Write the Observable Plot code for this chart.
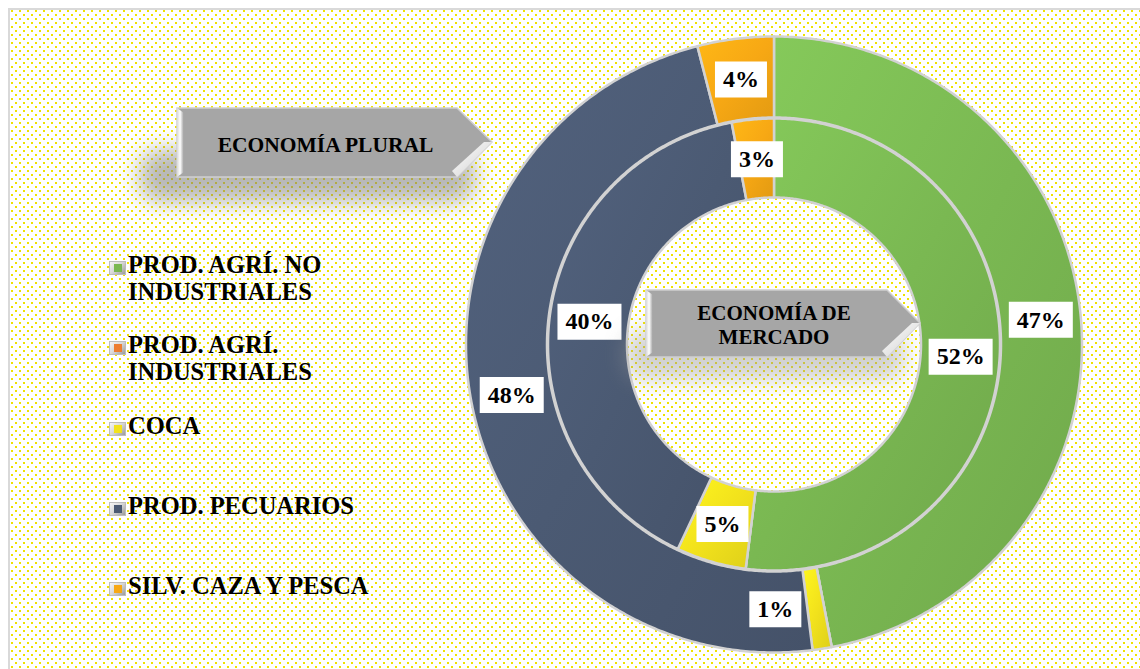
<!DOCTYPE html>
<html>
<head>
<meta charset="utf-8">
<script src="https://cdn.jsdelivr.net/npm/d3@7"></script>
<script src="https://cdn.jsdelivr.net/npm/@observablehq/plot@0.6"></script>
<style>
  body { margin: 0; background: #fff; }
  #wrap { position: relative; width: 1140px; height: 669px; overflow: hidden; background: #fff;
          font-family: "Liberation Serif", "Times New Roman", serif; }
  #frame { position: absolute; left: 8px; top: 8px; width: 1160px; height: 690px;
           border: 2px solid #d9d9d9;
           background-image: url("data:image/svg+xml;utf8,<svg xmlns='http://www.w3.org/2000/svg' width='8' height='8'><rect x='1' y='0' width='2' height='2' fill='%23EFE200'/><rect x='5' y='4' width='2' height='2' fill='%23EFE200'/></svg>"); }
  #chart { position: absolute; left: 0; top: 0; }
  #ann { position: absolute; left: 0; top: 0; }
  .item { position: absolute; left: 109px; width: 290px; }
  .icon { position: absolute; left: 0; width: 17px; height: 14px; box-sizing: border-box;
          background: linear-gradient(135deg, #f6f6f6 0%, #d6d6d6 50%, #9a9a9a 100%);
          border: 1px solid #bdbdbd; }
  .icon i { position: absolute; left: 4px; top: 2px; width: 8px; height: 8px; }
  .txt { position: absolute; left: 19px; width: 270px; font-size: 24.5px; font-weight: bold;
         line-height: 26.5px; color: #000; }
</style>
</head>
<body>
<div id="wrap">
  <div id="frame"></div>
  <div id="chart"></div>
  <div id="legend"></div>
  <svg id="ann" width="1140" height="669">
    <defs>
      <filter id="blur" x="-50%" y="-100%" width="200%" height="300%"><feGaussianBlur stdDeviation="11"/></filter>
      <linearGradient id="lbev" x1="0" x2="1" y1="0" y2="0">
        <stop offset="0" stop-color="#d8d8d8"/><stop offset="0.45" stop-color="#ffffff"/><stop offset="1" stop-color="#9c9c9c"/>
      </linearGradient>
      <linearGradient id="dbev" x1="0" x2="1" y1="0" y2="1">
        <stop offset="0" stop-color="#ffffff"/><stop offset="1" stop-color="#cfcfcf"/>
      </linearGradient>
    </defs>
    <!-- ECONOMÍA PLURAL -->
    <rect x="140" y="150" width="335" height="52" rx="20" fill="#7d7d7d" opacity="0.55" filter="url(#blur)"/>
    <polygon points="177,108 457,108 492,142 457,177 177,177" fill="#A6A6A6" stroke="#cfcfcf" stroke-width="1.5"/>
    <polygon points="177,108 184,113 184,172 177,177" fill="url(#lbev)"/>
    <polygon points="492,142 457,177 452,171 484,142" fill="url(#dbev)"/>
    <text x="325.5" y="151.7" text-anchor="middle" font-size="21.5" font-weight="bold"
          font-family="Liberation Serif, Times New Roman, serif">ECONOMÍA PLURAL</text>
    <!-- ECONOMÍA DE MERCADO -->
    <rect x="625" y="330" width="280" height="50" rx="20" fill="#9a9a9a" opacity="0.45" filter="url(#blur)"/>
    <polygon points="646,290 887,290 920,323 887,357 646,357" fill="#A6A6A6" stroke="#cfcfcf" stroke-width="1.5"/>
    <polygon points="646,290 653,295 653,352 646,357" fill="url(#lbev)"/>
    <polygon points="920,323 887,357 882,351 912,323" fill="url(#dbev)"/>
    <text x="774" y="320" text-anchor="middle" font-size="21" font-weight="bold"
          font-family="Liberation Serif, Times New Roman, serif">ECONOMÍA DE</text>
    <text x="774" y="344.3" text-anchor="middle" font-size="21" font-weight="bold"
          font-family="Liberation Serif, Times New Roman, serif">MERCADO</text>
  </svg>
</div>
<script>
// ---- data ----
const categories = ["PROD. AGRÍ. NO INDUSTRIALES", "PROD. AGRÍ. INDUSTRIALES", "COCA", "PROD. PECUARIOS", "SILV. CAZA Y PESCA"];
const outerValues = [47, 0, 1, 48, 4];   // Economía plural (outer ring)
const innerValues = [52, 0, 5, 40, 3];   // Economía de mercado (inner ring)
const colors = ["#7AB852", "#ED7D31", "#F2E21C", "#4B5A73", "#F7A814"];

// ---- layout ----
const W = 1140, H = 669, cx = 774, cy = 344.5;
const rings = [
  {name: "outer", values: outerValues, r0: 227, r1: 308},
  {name: "inner", values: innerValues, r0: 147, r1: 226}
];

const arcRows = [];
const labelRows = [];
for (const ring of rings) {
  const total = d3.sum(ring.values);
  let acc = 0;
  ring.values.forEach((v, i) => {
    const a0 = acc / total * 2 * Math.PI;
    acc += v;
    const a1 = acc / total * 2 * Math.PI;
    const n = Math.max(2, Math.ceil((a1 - a0) / (Math.PI / 360)));
    for (let k = 0; k <= n; k++) {
      const a = a0 + (a1 - a0) * k / n;
      arcRows.push({key: ring.name + i, cat: categories[i],
        x1: ring.r1 * Math.sin(a), y1: ring.r1 * Math.cos(a),
        x2: ring.r0 * Math.sin(a), y2: ring.r0 * Math.cos(a)});
    }
    if (v > 0) {
      const am = (a0 + a1) / 2, rm = (ring.r0 + ring.r1) / 2;
      labelRows.push({ring: ring.name, value: v, text: v + "%",
        x: rm * Math.sin(am), y: rm * Math.cos(am)});
    }
  });
}

const box = (w, h) => ({draw(ctx) { ctx.rect(-w / 2, -h / 2, w, h); }});
const wide = d => d.text.length >= 3;
const small = d => d.value < 2;
const font = "Liberation Serif, Times New Roman, serif";
const gradIds = colors.map((c, i) => "seg-grad-" + i);

const plot = Plot.plot({
  width: W, height: H,
  margin: 0,
  x: {domain: [-cx, W - cx], axis: null},
  y: {domain: [-(H - cy), cy], axis: null},
  color: {domain: categories, range: gradIds.map(id => `url(#${id})`)},
  style: {background: "transparent", overflow: "visible"},
  marks: [
    Plot.area(arcRows, {x1: "x1", y1: "y1", x2: "x2", y2: "y2", z: "key", fill: "cat",
      stroke: "#d2d2d2", strokeWidth: 2.5, curve: "linear"}),
    Plot.dot(labelRows.filter(d => !small(d) && wide(d)), {x: "x", y: "y", symbol: box(64, 36), fill: "white", stroke: "none"}),
    Plot.dot(labelRows.filter(d => !small(d) && !wide(d)), {x: "x", y: "y", symbol: box(52, 36), fill: "white", stroke: "none"}),
    Plot.dot(labelRows.filter(small), {x: "x", y: "y", dx: -41, symbol: box(52, 36), fill: "white", stroke: "none"}),
    Plot.text(labelRows.filter(d => !small(d)), {x: "x", y: "y", text: "text", fontSize: 24, fontWeight: "bold", fontFamily: font, fill: "black"}),
    Plot.text(labelRows.filter(small), {x: "x", y: "y", dx: -41, text: "text", fontSize: 24, fontWeight: "bold", fontFamily: font, fill: "black"})
  ]
});

// subtle bevel-like shading for each segment colour
const defs = d3.select(plot).insert("defs", ":first-child");
colors.forEach((c, i) => {
  const g = defs.append("linearGradient").attr("id", gradIds[i])
    .attr("x1", 0).attr("y1", 0).attr("x2", 1).attr("y2", 1);
  g.append("stop").attr("offset", 0).attr("stop-color", d3.color(c).brighter(0.25));
  g.append("stop").attr("offset", 0.5).attr("stop-color", c);
  g.append("stop").attr("offset", 1).attr("stop-color", d3.color(c).darker(0.25));
});
document.getElementById("chart").appendChild(plot);

// ---- legend ----
const legend = document.getElementById("legend");
categories.forEach((c, i) => {
  const item = document.createElement("div");
  item.className = "item";
  item.style.top = (252 + i * 80.3) + "px";
  const icon = document.createElement("div");
  icon.className = "icon";
  icon.style.top = "9px";
  const inner = document.createElement("i");
  inner.style.background = colors[i];
  icon.appendChild(inner);
  const txt = document.createElement("div");
  txt.className = "txt";
  txt.textContent = c;
  item.appendChild(icon);
  item.appendChild(txt);
  legend.appendChild(item);
});
</script>
</body>
</html>
